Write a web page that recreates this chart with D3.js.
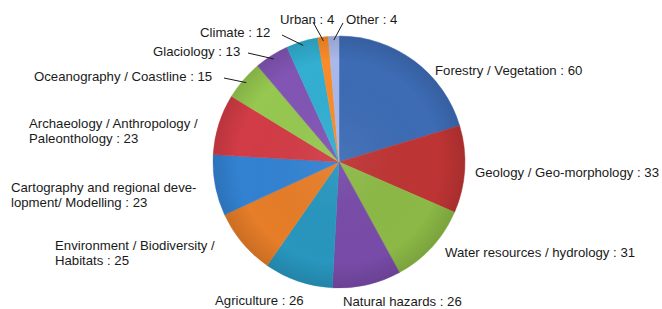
<!DOCTYPE html>
<html>
<head>
<meta charset="utf-8">
<script src="https://cdn.jsdelivr.net/npm/d3@7"></script>
<style>
  html, body { margin: 0; padding: 0; background: #fff; }
  svg { display: block; }
  text { font-family: "Liberation Sans", Arial, sans-serif; font-size: 13.2px; fill: #1a1a1a; }
</style>
</head>
<body>
<svg id="chart" width="662" height="309"></svg>
<script>
// ---- data ----
const categories = [
  "Forestry / Vegetation",
  "Geology / Geo-morphology",
  "Water resources / hydrology",
  "Natural hazards",
  "Agriculture",
  "Environment / Biodiversity / Habitats",
  "Cartography and regional development/ Modelling",
  "Archaeology / Anthropology / Paleonthology",
  "Oceanography / Coastline",
  "Glaciology",
  "Climate",
  "Urban",
  "Other"
];
const values = [60, 33, 31, 26, 26, 25, 23, 23, 15, 13, 12, 4, 4];
// label text lines as displayed (wrapped like the original)
const labelLines = [
  ["Forestry / Vegetation : 60"],
  ["Geology / Geo-morphology : 33"],
  ["Water resources / hydrology : 31"],
  ["Natural hazards : 26"],
  ["Agriculture : 26"],
  ["Environment / Biodiversity /", "Habitats : 25"],
  ["Cartography and regional deve-", "lopment/ Modelling : 23"],
  ["Archaeology / Anthropology /", "Paleonthology : 23"],
  ["Oceanography / Coastline : 15"],
  ["Glaciology : 13"],
  ["Climate : 12"],
  ["Urban : 4"],
  ["Other : 4"]
];

// ---- styles / layout ----
const colors = ["#3d6cb5", "#be3434", "#8cb946", "#784ba8", "#2896be", "#e67d28",
                "#3282d2", "#d23c46", "#96c850", "#8255b4", "#32afd2", "#fa8c28", "#aab9eb"];
const cx = 339, cy = 162, R = 126;
// label anchor: left x, first-line centre y
const labelAnchor = [
  [435, 70], [475, 172], [445, 252], [343, 301], [215, 300],
  [55, 245], [11, 187], [29, 123], [34, 76], [153, 51], [200, 32], [280, 19], [346, 19]
];
// leader line start points (null = no leader)
const leaderStart = [null, null, null, null, null, null, null, null,
  [224, 78], [248, 53], [282, 35], [313, 22], [343, 23]];

const svg = d3.select("#chart");
const defs = svg.append("defs");
const grad = defs.append("radialGradient").attr("id", "shade")
  .attr("cx", "50%").attr("cy", "50%").attr("r", "50%");
grad.append("stop").attr("offset", "0%").attr("stop-color", "#fff").attr("stop-opacity", 0.06);
grad.append("stop").attr("offset", "80%").attr("stop-color", "#000").attr("stop-opacity", 0.0);
grad.append("stop").attr("offset", "100%").attr("stop-color", "#000").attr("stop-opacity", 0.12);

const pie = d3.pie().sort(null).value(d => d)(values);
const arc = d3.arc().innerRadius(0).outerRadius(R);
const color = d3.scaleOrdinal().domain(d3.range(values.length)).range(colors);

const g = svg.append("g").attr("transform", `translate(${cx},${cy})`);
g.selectAll("path.slice").data(pie).enter().append("path")
  .attr("class", "slice")
  .attr("d", arc)
  .attr("fill", (d, i) => color(i))
  .attr("stroke", (d, i) => color(i))
  .attr("stroke-width", 0.5);
g.append("circle").attr("r", R).attr("fill", "url(#shade)");

// leader lines
pie.forEach((d, i) => {
  if (!leaderStart[i]) return;
  const a = (d.startAngle + d.endAngle) / 2;
  const rr = R - 4;
  const ex = cx + rr * Math.sin(a), ey = cy - rr * Math.cos(a);
  svg.append("line")
    .attr("x1", leaderStart[i][0]).attr("y1", leaderStart[i][1])
    .attr("x2", ex).attr("y2", ey)
    .attr("stroke", "#1a1a1a").attr("stroke-width", 1);
});

// labels
labelLines.forEach((lines, i) => {
  const t = svg.append("text")
    .attr("x", labelAnchor[i][0]).attr("y", labelAnchor[i][1])
    .attr("dominant-baseline", "central");
  lines.forEach((ln, j) => {
    t.append("tspan").attr("x", labelAnchor[i][0])
      .attr("dy", j === 0 ? 0 : 15).text(ln);
  });
});
</script>
</body>
</html>
